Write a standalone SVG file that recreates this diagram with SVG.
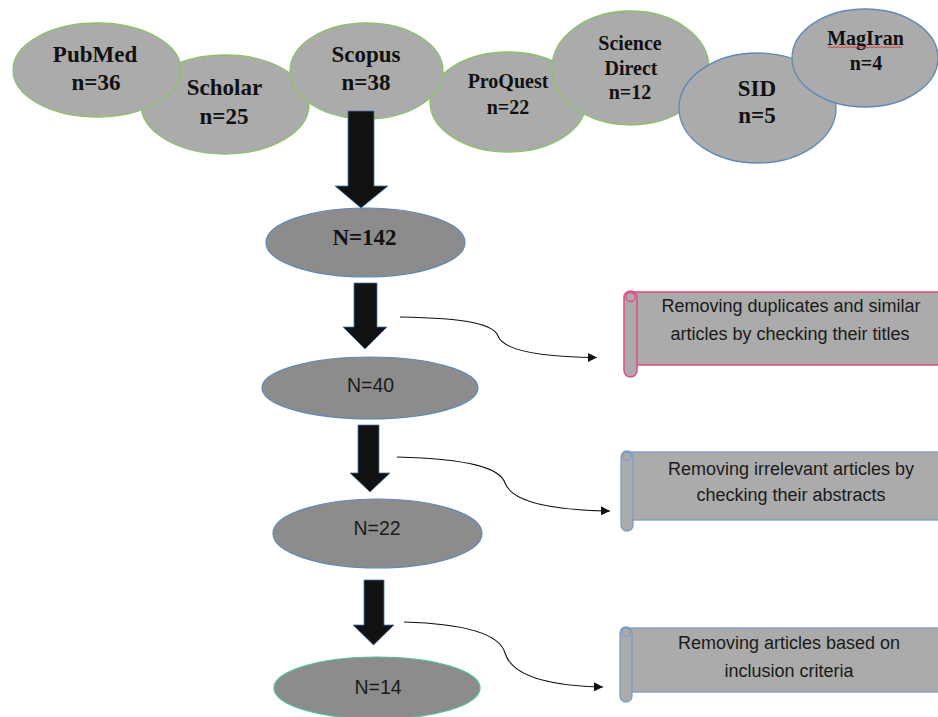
<svg xmlns="http://www.w3.org/2000/svg" width="938" height="717" viewBox="0 0 938 717">
<style>
.src{fill:#ababab;stroke:#8cc168;stroke-width:1.3}
.srcb{fill:#ababab;stroke:#5f88b8;stroke-width:1.3}
.tb{font-family:"Liberation Serif","Times New Roman",serif;font-weight:bold;fill:#111;text-anchor:middle}
.cnt{fill:#8c8c8c;stroke:#5f88b8;stroke-width:1.2}
.ts{font-family:"Liberation Sans",Arial,sans-serif;fill:#1a1a1a;text-anchor:middle}
.big{fill:#111;stroke:#4a78a8;stroke-width:0.8}
.cur{fill:none;stroke:#111;stroke-width:1.1}
.scb{fill:#ababab}
</style>
<defs>
<marker id="ah" viewBox="0 0 10 10" refX="10" refY="5" markerWidth="9" markerHeight="9" markerUnits="userSpaceOnUse" orient="auto">
<path d="M0,0 L10,5 L0,10 z" fill="#111"/>
</marker>
</defs>
<rect width="938" height="717" fill="#fff"/>

<g id="scholar"><ellipse class="src" cx="225" cy="104.5" rx="84" ry="49.5"/>
<text class="tb" font-size="23" x="224.5" y="95">Scholar</text><text class="tb" font-size="23" x="224" y="124">n=25</text></g>
<g id="pubmed"><ellipse class="src" cx="97" cy="70" rx="84" ry="47"/>
<text class="tb" font-size="23" x="95" y="62">PubMed</text><text class="tb" font-size="23" x="96" y="90">n=36</text></g>
<g id="proquest"><ellipse class="src" cx="508" cy="102" rx="78" ry="50"/>
<text class="tb" font-size="20" x="508" y="88">ProQuest</text><text class="tb" font-size="20" x="508" y="114">n=22</text></g>
<g id="scopus"><ellipse class="src" cx="366.5" cy="71" rx="76.5" ry="48"/>
<text class="tb" font-size="23" x="366" y="62">Scopus</text><text class="tb" font-size="23" x="366" y="90">n=38</text></g>
<g id="sciencedirect"><ellipse class="src" cx="630.5" cy="68" rx="78.5" ry="57"/>
<text class="tb" font-size="20" x="630" y="50">Science</text><text class="tb" font-size="20" x="631" y="75">Direct</text><text class="tb" font-size="20" x="630" y="99">n=12</text></g>
<g id="sid"><ellipse class="srcb" cx="757.5" cy="108" rx="78.5" ry="55"/>
<text class="tb" font-size="23" x="757" y="96">SID</text><text class="tb" font-size="23" x="757" y="123">n=5</text></g>
<g id="magiran"><ellipse class="srcb" cx="865" cy="58" rx="73" ry="49"/>
<text class="tb" font-size="20" x="865.5" y="45">MagIran</text>
<path d="M828,48 l2,-1.5 l2,1.5 l2,-1.5 l2,1.5 l2,-1.5 l2,1.5 l2,-1.5 l2,1.5 l2,-1.5 l2,1.5 l2,-1.5 l2,1.5 l2,-1.5 l2,1.5 l2,-1.5 l2,1.5 l2,-1.5 l2,1.5 l2,-1.5 l2,1.5 l2,-1.5 l2,1.5 l2,-1.5 l2,1.5 l2,-1.5 l2,1.5 l2,-1.5 l2,1.5 l2,-1.5 l2,1.5 l2,-1.5 l2,1.5 l2,-1.5 l2,1.5 l2,-1.5 l2,1.5 l2,-1.5" fill="none" stroke="#e03030" stroke-width="0.9"/>
<text class="tb" font-size="20" x="866" y="70">n=4</text></g>

<g id="n142"><ellipse class="cnt" cx="365.5" cy="242.5" rx="99.5" ry="34.5"/>
<text class="tb" font-size="23" x="364.5" y="245">N=142</text></g>
<g id="n40"><ellipse class="cnt" cx="370" cy="388" rx="108" ry="31"/>
<text class="ts" font-size="19.5" x="370.5" y="392">N=40</text></g>
<g id="n22"><ellipse class="cnt" cx="377.5" cy="533.5" rx="104.5" ry="34.5"/>
<text class="ts" font-size="19.5" x="377" y="535">N=22</text></g>
<g id="n14"><ellipse class="cnt" style="stroke:#4fbf98" cx="377" cy="688" rx="103" ry="31"/>
<text class="ts" font-size="19.5" x="378" y="694">N=14</text></g>

<g id="scroll1">
<rect class="scb" x="630" y="292" width="320" height="73" stroke="#e0508a" stroke-width="1.6"/>
<rect class="scb" x="624" y="291" width="13" height="86" rx="6.5" stroke="#e0508a" stroke-width="1.6"/>
<circle cx="630.5" cy="297" r="4.5" fill="none" stroke="#e0508a" stroke-width="1.3"/>
<text class="ts" font-size="18" x="791" y="312">Removing duplicates and similar</text>
<text class="ts" font-size="18" x="790" y="340">articles by checking their titles</text>
</g>
<g id="scroll2">
<rect class="scb" x="627" y="452" width="320" height="68" stroke="#7a9cc6" stroke-width="1.3"/>
<rect class="scb" x="621" y="451" width="12" height="80" rx="6" stroke="#7a9cc6" stroke-width="1.3"/>
<circle cx="627" cy="456.5" r="4" fill="none" stroke="#7a9cc6" stroke-width="1.1"/>
<text class="ts" font-size="18" x="791" y="475">Removing irrelevant articles by</text>
<text class="ts" font-size="18" x="791" y="501">checking their abstracts</text>
</g>
<g id="scroll3">
<rect class="scb" x="626" y="628" width="320" height="64" stroke="#7a9cc6" stroke-width="1.3"/>
<rect class="scb" x="620" y="627" width="12" height="75" rx="6" stroke="#7a9cc6" stroke-width="1.3"/>
<circle cx="626" cy="632.5" r="4" fill="none" stroke="#7a9cc6" stroke-width="1.1"/>
<text class="ts" font-size="18" x="789" y="649">Removing articles based on</text>
<text class="ts" font-size="18" x="789" y="677">inclusion criteria</text>
</g>

<g id="connectors">
<polygon class="big" points="348,111 374,111 374,186 388,186 361,208 335,186 348,186"/>
<polygon class="big" points="354,283 377,283 377,327 387,327 365,349 343,327 354,327"/>
<polygon class="big" points="358,425 379,425 379,473 390,473 370,492 350,473 358,473"/>
<polygon class="big" points="364,580 384,580 384,625 394,625 373.5,645 353,625 364,625"/>
<path class="cur" marker-end="url(#ah)" d="M400,317 C470,318 494,325 498,336 C504,351 540,357 597,357.5"/>
<path class="cur" marker-end="url(#ah)" d="M397,457 C470,459 500,468 505,483 C512,502 550,510 610,511"/>
<path class="cur" marker-end="url(#ah)" d="M404,622 C470,624 500,635 505,653 C512,676 550,686 603,687"/>
</g>
</svg>
